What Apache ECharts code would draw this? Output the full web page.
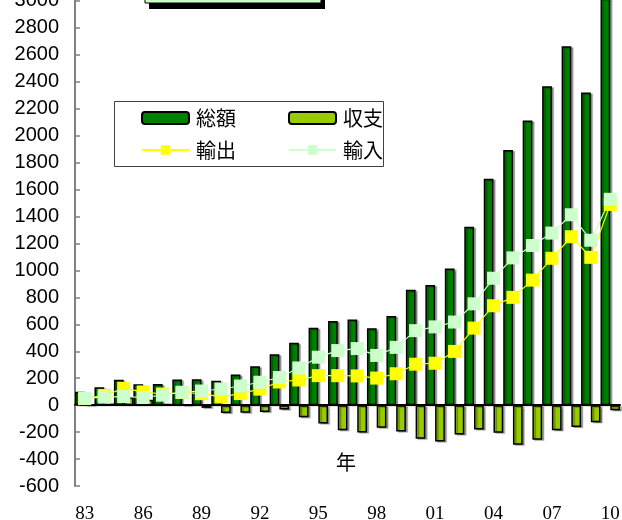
<!DOCTYPE html>
<html>
<head>
<meta charset="utf-8">
<script src="https://cdn.jsdelivr.net/npm/echarts@6/dist/echarts.min.js"></script>
<style>
html,body{margin:0;padding:0;background:#fff;}
#chart{width:622px;height:520px;}
</style>
</head>
<body>
<div id="chart"></div>
<script>
var years = ['83','84','85','86','87','88','89','90','91','92','93','94','95','96','97','98','99','00','01','02','03','04','05','06','07','08','09','10'];
var totalValues = [100,132,189,156,157,190,192,181,228,289,378,463,574,624,636,570,662,857,892,1015,1324,1680,1893,2113,2367,2663,2321,3019];
var balanceValues = [-2,12,61,41,9,-2,-20,-59,-56,-51,-33,-89,-137,-186,-203,-168,-196,-249,-270,-218,-180,-204,-293,-257,-187,-163,-127,-38];
var exportValues = [49,72,125,98,83,94,85,61,86,119,172,187,219,219,217,201,233,304,311,399,572,738,800,928,1090,1250,1097,1490];
var importValues = [51,60,64,57,74,96,105,120,142,170,205,276,356,405,420,369,429,553,581,617,752,942,1093,1185,1277,1413,1224,1528];
var yTicks = {min: -600, max: 3200, interval: 200};

var chart = echarts.init(document.getElementById('chart'), null, {renderer: 'canvas'});
var cjk = '"Noto Sans CJK JP", "Noto Sans", sans-serif';
var barShadow = {shadowColor: 'rgba(0,0,0,0.35)', shadowOffsetX: 2, shadowOffsetY: 1, shadowBlur: 1};

chart.setOption({
  animation: false,
  backgroundColor: '#fff',
  grid: {left: 75, right: 2, top: -26, bottom: 34, containLabel: false, outerBoundsMode: 'none'},
  xAxis: [{
    type: 'category',
    data: years,
    position: 'bottom',
    axisLine: {show: false, onZero: false},
    axisTick: {show: false},
    axisLabel: {interval: 2, margin: 19, color: '#000', fontFamily: '"Liberation Serif", "Times New Roman", serif', fontSize: 19}
  }, {
    type: 'category',
    data: years,
    position: 'top',
    axisLine: {show: true, onZero: true, lineStyle: {color: '#000', width: 2}},
    axisTick: {show: false},
    axisLabel: {show: false}
  }],
  yAxis: {
    type: 'value',
    min: yTicks.min, max: yTicks.max, interval: yTicks.interval,
    axisLine: {show: true, lineStyle: {color: '#808080', width: 2}},
    axisTick: {show: true, inside: true, length: 5, lineStyle: {color: '#808080', width: 1.5}},
    splitLine: {show: false},
    axisLabel: {margin: 16, color: '#000', fontFamily: '"Liberation Sans", Arial, sans-serif', fontSize: 20,
      formatter: function (v) { return String(v); }}
  },
  legend: [{
    data: ['総額', '収支'],
    left: 141, top: 108, padding: 0,
    itemWidth: 47, itemHeight: 12, itemGap: 52,
    textStyle: {fontFamily: cjk, fontSize: 20, color: '#000', padding: [0,0,0,2]}
  }, {
    data: ['輸出', '輸入'],
    left: 141, top: 140, padding: 0,
    itemWidth: 47, itemHeight: 12, itemGap: 52,
    textStyle: {fontFamily: cjk, fontSize: 20, color: '#000', padding: [0,0,0,2]}
  }],
  graphic: [
    {type: 'rect', z: 100, shape: {x: 149, y: -36, width: 176, height: 45}, style: {fill: '#000'}},
    {type: 'rect', z: 101, shape: {x: 145, y: -40, width: 176, height: 43}, style: {fill: '#ccffcc', stroke: '#000', lineWidth: 1}},
    {type: 'rect', z: 1, shape: {x: 114.5, y: 101.5, width: 269, height: 65}, style: {fill: '#fff', stroke: '#404040', lineWidth: 1}},
    {type: 'text', z: 5, x: 346, y: 462, style: {text: '年', font: '20px ' + cjk, fill: '#000', align: 'center', verticalAlign: 'middle'}}
  ],
  series: [{
    name: '総額', type: 'bar', data: totalValues,
    barGap: '0%', barCategoryGap: '0%',
    itemStyle: Object.assign({color: '#008000', borderColor: '#000', borderWidth: 1.5}, barShadow)
  }, {
    name: '収支', type: 'bar', data: balanceValues,
    barGap: '0%', barCategoryGap: '0%',
    itemStyle: Object.assign({color: '#99cc00', borderColor: '#000', borderWidth: 1.5}, barShadow)
  }, {
    name: '輸出', type: 'line', data: exportValues,
    symbol: 'rect', symbolSize: 13, showAllSymbol: true,
    lineStyle: {color: '#ffff00', width: 1.2},
    itemStyle: {color: '#ffff00'}
  }, {
    name: '輸入', type: 'line', data: importValues,
    symbol: 'rect', symbolSize: 13, showAllSymbol: true,
    lineStyle: {color: '#ccffcc', width: 1.2},
    itemStyle: {color: '#ccffcc'}
  }]
});
</script>
</body>
</html>
